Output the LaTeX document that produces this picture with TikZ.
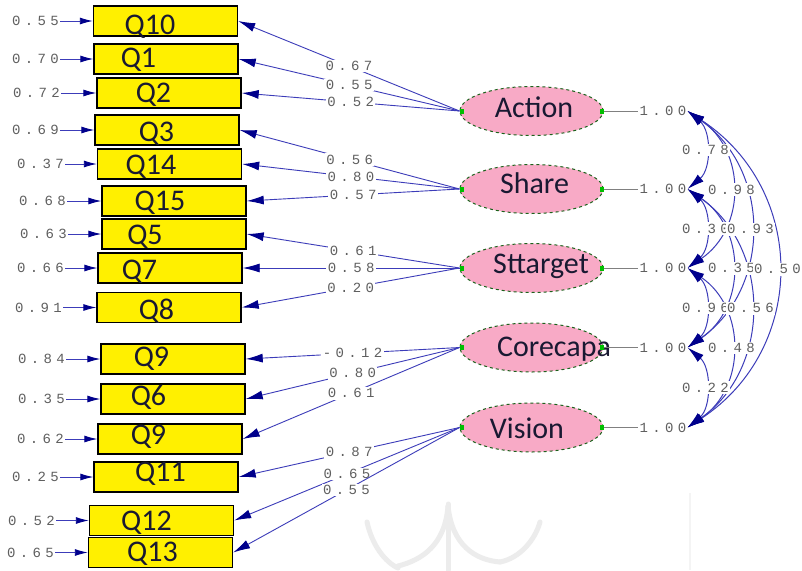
\documentclass[tikz,border=0pt]{standalone}
\usepackage{fontspec}
\usetikzlibrary{shapes.geometric,arrows.meta,calc}
\newfontfamily\boxfont{Carlito}
\newfontfamily\numfont[LetterSpace=31]{Liberation Mono}
\definecolor{lineblue}{RGB}{60,60,185}
\definecolor{tipblue}{RGB}{0,0,140}
\definecolor{boxyellow}{RGB}{255,240,0}
\definecolor{latpink}{RGB}{248,170,198}
\definecolor{latborder}{RGB}{40,140,40}
\definecolor{numgray}{RGB}{95,95,95}
\definecolor{txtdark}{RGB}{25,25,50}
\definecolor{wmgray}{RGB}{236,236,236}
\begin{document}
\begin{tikzpicture}[x=1pt,y=-1pt,
 qbox/.style={rectangle, draw=black, line width=1.4pt, fill=boxyellow, minimum width=144pt, minimum height=30pt, inner sep=0pt},
 qtxt/.style={font=\boxfont\fontsize{30}{30}\selectfont, text=txtdark, inner sep=0pt, text depth=0pt},
 lat/.style={ellipse, draw=latborder!70!black, dashed, line width=1pt, fill=latpink, minimum width=143pt, minimum height=49pt, inner sep=0pt},
 num/.style={font=\numfont\fontsize{14}{14}\selectfont, text=numgray, inner sep=1pt},
 numw/.style={num, fill=white, inner sep=1.5pt},
 load/.style={draw=lineblue, line width=0.9pt, -{Latex[length=17pt,width=9pt,color=tipblue]}},
 err/.style={draw=lineblue, line width=0.9pt, -{Latex[length=13pt,width=7pt,color=tipblue]}},
 cov/.style={draw=lineblue, line width=1pt, {Latex[length=17pt,width=9pt,color=tipblue]}-{Latex[length=17pt,width=9pt,color=tipblue]}},
 gline/.style={draw=gray, line width=0.8pt},
 gsq/.style={fill=green!75!black},
 wm/.style={draw=wmgray, line width=5pt, line cap=round},
]
\useasboundingbox (0,0) rectangle (802,570);
\fill[white] (0,0) rectangle (802,570);

% watermark
\draw[wm] (448,504) -- (448,570);
\draw[wm] (448,506) .. controls (445,545) and (422,560) .. (398,566);
\draw[wm] (367,522) .. controls (372,545) and (385,562) .. (398,568);
\draw[wm] (448,506) .. controls (452,545) and (475,560) .. (500,562);
\draw[wm] (500,562) .. controls (520,558) and (535,540) .. (540,522);
\draw[draw=wmgray!60, line width=2pt] (690,493) -- (690,570);

% observed variables
\node[qbox, label={[qtxt,xshift=-15.5pt,yshift=-3.5pt]center:Q10}] (q10) at (165.5,21) {};
\node[qbox, label={[qtxt,xshift=-27.5pt,yshift=1pt]center:Q1}] (q1) at (166,59) {};
\node[qbox, label={[qtxt,xshift=-15.5pt]center:Q2}] (q2) at (169,93) {};
\node[qbox, label={[qtxt,xshift=-10.5pt,yshift=-2pt]center:Q3}] (q3) at (167,130) {};
\node[qbox, label={[qtxt,xshift=-18.5pt,yshift=-0.5pt]center:Q14}] (q14) at (169.5,164) {};
\node[qbox, label={[qtxt,xshift=-14pt]center:Q15}] (q15) at (174,201) {};
\node[qbox, label={[qtxt,xshift=-29pt,yshift=-1pt]center:Q5}] (q5) at (174,234) {};
\node[qbox, label={[qtxt,xshift=-30.5pt,yshift=-1.5pt]center:Q7}] (q7) at (170,268) {};
\node[qbox, label={[qtxt,xshift=-12.5pt,yshift=-1.5pt]center:Q8}] (q8) at (169,307.5) {};
\node[qbox, label={[qtxt,xshift=-21.5pt,yshift=2pt]center:Q9}] (q9a) at (173,359) {};
\node[qbox, label={[qtxt,xshift=-24.5pt,yshift=4pt]center:Q6}] (q6) at (173,399) {};
\node[qbox, label={[qtxt,xshift=-21.5pt,yshift=4pt]center:Q9}] (q9b) at (170,439) {};
\node[qbox, label={[qtxt,xshift=-5.5pt,yshift=5.5pt]center:Q11}] (q11) at (166,477) {};
\node[qbox, label={[qtxt,xshift=-15pt,yshift=-0.5pt]center:Q12}] (q12) at (161.5,520.5) {};
\node[qbox, label={[qtxt,xshift=-8pt,yshift=1pt]center:Q13}] (q13) at (160.5,552.5) {};

% error variances
\node[num, anchor=east] (e10) at (60,21) {0.55};
\node[num, anchor=east] (e1) at (60,59) {0.70};
\node[num, anchor=east] (e2) at (61,93) {0.72};
\node[num, anchor=east] (e3) at (60,130) {0.69};
\node[num, anchor=east] (e14) at (65,164) {0.37};
\node[num, anchor=east] (e15) at (67,201) {0.68};
\node[num, anchor=east] (e5) at (68,234) {0.63};
\node[num, anchor=east] (e7) at (65,268) {0.66};
\node[num, anchor=east] (e8) at (63,307.5) {0.91};
\node[num, anchor=east] (e9a) at (66,359) {0.84};
\node[num, anchor=east] (e6) at (66,399) {0.35};
\node[num, anchor=east] (e9b) at (65,439) {0.62};
\node[num, anchor=east] (e11) at (60,477) {0.25};
\node[num, anchor=east] (e12) at (56,520.5) {0.52};
\node[num, anchor=east] (e13) at (55,552.5) {0.65};
\foreach \e/\q in {e10/q10,e1/q1,e2/q2,e3/q3,e14/q14,e15/q15,e5/q5,e7/q7,e8/q8,e9a/q9a,e6/q6,e9b/q9b,e11/q11,e12/q12,e13/q13}
  \draw[err] (\e.east) -- (\q.west);

% latent variables
\node[lat, label={[qtxt,xshift=2.5pt,yshift=4pt]center:Action}] (act) at (531.5,111) {};
\node[lat, label={[qtxt,xshift=3pt,yshift=5.5pt]center:Share}] (sha) at (531.5,189) {};
\node[lat, label={[qtxt,xshift=9.5pt,yshift=4pt]center:Sttarget}] (stt) at (531.5,268) {};
\node[lat, label={[qtxt,xshift=22.5pt,yshift=0.5pt]center:Corecapa}] (cor) at (531.5,347.5) {};
\node[lat, label={[qtxt,xshift=-4.5pt,yshift=-1pt]center:Vision}] (vis) at (531.5,427.5) {};

% loadings
\draw[load] (act.west) -- node[numw]{0.67} (q10.east);
\draw[load] (act.west) -- node[numw]{0.55} (q1.east);
\draw[load] (act.west) -- node[numw]{0.52} (q2.east);
\draw[load] (sha.west) -- node[numw]{0.56} (q3.east);
\draw[load] (sha.west) -- node[numw]{0.80} (q14.east);
\draw[load] (sha.west) -- node[numw]{0.57} (q15.east);
\draw[load] (stt.west) -- node[numw]{0.61} (q5.east);
\draw[load] (stt.west) -- node[numw]{0.58} (q7.east);
\draw[load] (stt.west) -- node[numw]{0.20} (q8.east);
\draw[load] (cor.west) -- node[numw]{-0.12} (q9a.east);
\draw[load] (cor.west) -- node[numw]{0.80} (q6.east);
\draw[load] (cor.west) -- node[numw]{0.61} (q9b.east);
\draw[load] (vis.west) -- node[numw]{0.87} (q11.east);
\draw[load] (vis.west) -- node[numw]{0.65} (q12.east);
\draw[load] (vis.west) -- node[numw]{0.55} (q13.east);

% green connection squares
\foreach \n in {act,sha,stt,cor,vis}{
  \fill[gsq] ($(\n.west)+(0,-2.5)$) rectangle +(4,5);
  \fill[gsq] ($(\n.east)+(-4,-2.5)$) rectangle +(4,5);
}

% variances of latent variables
\node[num] (v1) at (663,111) {1.00};
\node[num] (v2) at (663,189) {1.00};
\node[num] (v3) at (663,268) {1.00};
\node[num] (v4) at (663,347.5) {1.00};
\node[num] (v5) at (663,427.5) {1.00};
\draw[gline] (act.east) -- (v1.west);
\draw[gline] (sha.east) -- (v2.west);
\draw[gline] (stt.east) -- (v3.west);
\draw[gline] (cor.east) -- (v4.west);
\draw[gline] (vis.east) -- (v5.west);

% covariances
\draw[cov] (v1.east) .. controls +(24,20) and +(24,-20) .. coordinate[midway] (m12) (v2.east);
\draw[cov] (v2.east) .. controls +(24,20) and +(24,-20) .. coordinate[midway] (m23) (v3.east);
\draw[cov] (v3.east) .. controls +(24,20) and +(24,-20) .. coordinate[midway] (m34) (v4.east);
\draw[cov] (v4.east) .. controls +(24,20) and +(24,-20) .. coordinate[midway] (m45) (v5.east);
\draw[cov] (v1.east) .. controls +(58.7,40) and +(58.7,-40) .. coordinate[midway] (m13) (v3.east);
\draw[cov] (v2.east) .. controls +(58.7,40) and +(58.7,-40) .. coordinate[midway] (m24) (v4.east);
\draw[cov] (v3.east) .. controls +(58.7,40) and +(58.7,-40) .. coordinate[midway] (m35) (v5.east);
\draw[cov] (v1.east) .. controls +(84,59) and +(84,-59) .. coordinate[midway] (m14) (v4.east);
\draw[cov] (v2.east) .. controls +(84,59) and +(84,-59) .. coordinate[midway] (m25) (v5.east);
\draw[cov] (v1.east) .. controls +(120,79) and +(120,-79) .. coordinate[midway] (m15) (v5.east);
\node[numw] at (m12) {0.78};
\node[numw] at (m23) {0.30};
\node[numw] at (m34) {0.96};
\node[numw] at (m45) {0.22};
\node[numw] at (m13) {0.98};
\node[numw] at (m24) {0.35};
\node[numw] at (m35) {0.48};
\node[numw] at (m14) {0.93};
\node[numw] at (m25) {0.56};
\node[numw] at (m15) {0.50};
\end{tikzpicture}
\end{document}
